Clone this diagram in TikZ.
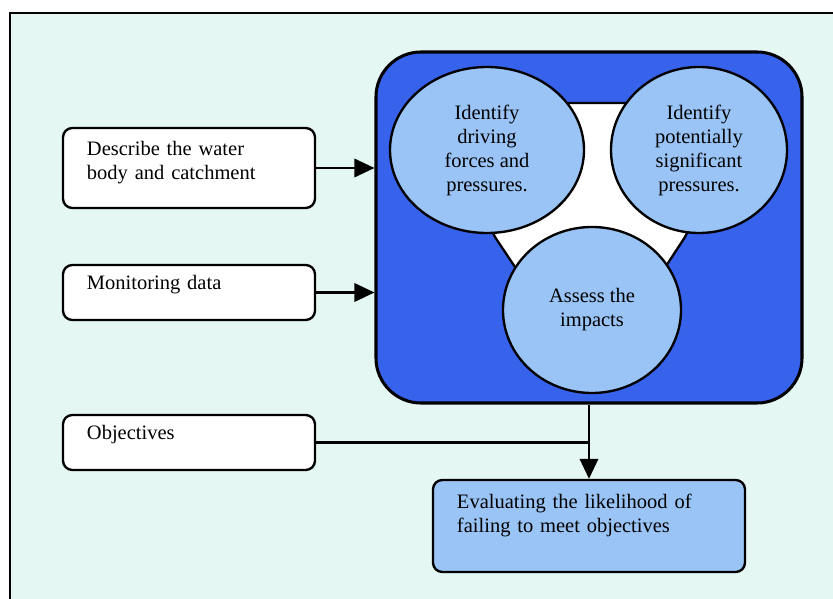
\documentclass[tikz,border=0pt]{standalone}
\usepackage{fontspec}
\setmainfont{Liberation Serif}
\usepackage{xcolor}
\definecolor{panelcyan}{RGB}{228,247,243}
\definecolor{stageblue}{RGB}{55,98,235}
\definecolor{bubbleblue}{RGB}{153,196,245}
\usetikzlibrary{arrows.meta,shapes.geometric}

\begin{document}
\begin{tikzpicture}[x=0.03cm,y=-0.03cm,
        every node/.style={font=\fontsize{17.5}{20.5}\selectfont},
        inbox/.style={draw,line width=2pt,rounded corners=8pt,fill=white,minimum width=7.56cm,
            text width=6.12cm,inner xsep=0.72cm,align=left},
        bubble/.style={draw,line width=2pt,ellipse,fill=bubbleblue,align=center,inner sep=0pt},
        feed/.style={line width=2pt,-{Triangle[length=0.6cm,width=0.55cm]}}]
            \def\lw{2pt}
            \useasboundingbox (0,0) rectangle (833,599);
            \fill[white] (0,0) rectangle (833,599);
            \draw[line width=\lw,fill=panelcyan] (10,13) rectangle (850,620);
            \node[draw,line width=2.6pt,fill=stageblue,rounded corners=1.35cm,
                minimum width=12.78cm,minimum height=10.53cm] (stage) at (589,227.5) {};
            \draw[line width=\lw,fill=white] (430,103) -- (752,103) -- (685,237) -- (591,381)
                -- (495,237) -- cycle;
            \node[bubble,minimum width=5.82cm,minimum height=4.98cm] (drivers) at (487,150)
                {Identify\\driving\\forces and\\pressures.};
            \node[bubble,minimum width=5.28cm,minimum height=4.98cm] (pressures) at (699,150)
                {Identify\\potentially\\significant\\pressures.};
            \node[bubble,minimum width=5.34cm,minimum height=4.98cm] (impacts) at (592,310)
                {Assess the\\impacts};
            \node[inbox,minimum height=2.4cm,text depth=33pt] (desc) at (189,168)
                {Describe the water\\body and catchment};
            \node[inbox,minimum height=1.65cm,text depth=18pt] (monitor) at (189,292.5) {Monitoring data};
            \node[inbox,minimum height=1.65cm,text depth=17pt] (obj) at (189,442.5) {Objectives};
            \node[inbox,fill=bubbleblue,minimum width=9.36cm,text width=7.92cm,
                minimum height=2.76cm,text depth=43pt] (eval) at (589,526)
                {Evaluating the likelihood of\\failing to meet objectives};
            \draw[feed] (desc.east) -- (desc.east -| stage.west);
            \draw[feed] (monitor.east) -- (monitor.east -| stage.west);
            \draw[line width=\lw] (obj.east) -- (obj.east -| stage.south);
            \draw[feed] (stage.south) -- (eval.north);
        \end{tikzpicture}
\end{document}
